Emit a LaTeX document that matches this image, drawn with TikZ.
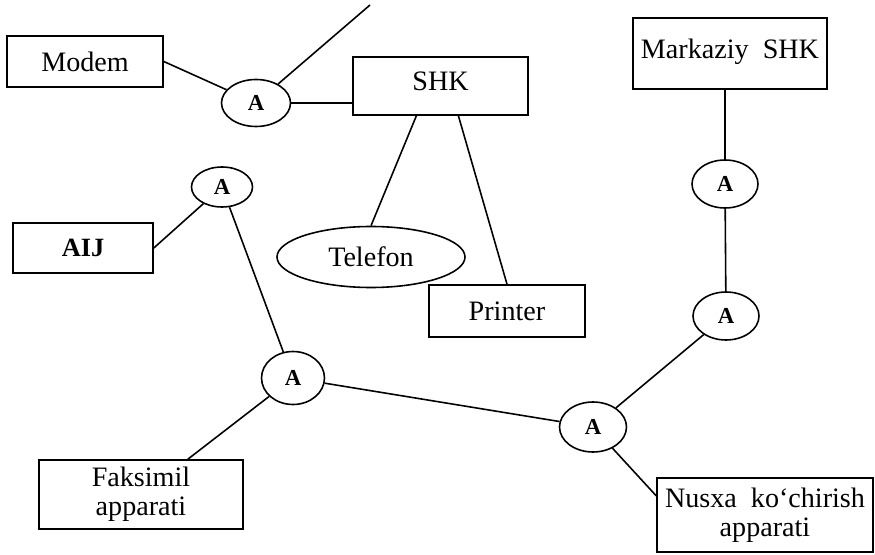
\documentclass[tikz,border=0pt]{standalone}
\usepackage{fontspec}
\setmainfont{Liberation Serif}
\usetikzlibrary{shapes.geometric}

\begin{document}
\begin{tikzpicture}[
    blok/.style={draw, rectangle, inner sep=0pt, align=center, font=\fontsize{16}{16.5}\selectfont},
    uzel/.style={draw, ellipse, inner sep=0pt, minimum width=1.32cm, minimum height=0.96cm, font=\fontsize{13}{15}\selectfont\bfseries},
    line width=0.9pt]
      % Fix the picture size
      \useasboundingbox (0,0) rectangle (17.5,11.08);

      % Draw the devices
      \node[blok, minimum width=3.12cm, minimum height=1.02cm] (modem) at (1.70,9.85) {Modem};
      \node[blok, minimum width=3.50cm, minimum height=1.16cm, text depth=0.2cm] (shk) at (8.81,9.36) {SHK};
      \node[blok, minimum width=3.88cm, minimum height=1.42cm, text depth=0.2cm] (markaz) at (14.60,10.01) {Markaziy\hspace{0.5em}SHK};
      \node[blok, minimum width=2.80cm, minimum height=1.00cm, font=\fontsize{15}{16}\selectfont\bfseries] (aij) at (1.66,6.12) {AIJ};
      \node[draw, ellipse, inner sep=0pt, minimum width=3.76cm, minimum height=1.22cm, font=\fontsize{16}{16.5}\selectfont] (telefon) at (7.42,5.94) {Telefon};
      \node[blok, minimum width=3.12cm, minimum height=1.04cm] (printer) at (10.14,4.86) {Printer};
      \node[blok, minimum width=4.08cm, minimum height=1.38cm] (faks) at (2.82,1.19) {Faksimil\\apparati};
      \node[blok, minimum width=4.32cm, minimum height=1.48cm] (nusxa) at (15.30,0.78) {Nusxa\hspace{0.5em}ko‘chirish\\apparati};

      % Draw the adapters
      \node[uzel, minimum width=1.38cm, minimum height=0.94cm] (a1) at (5.12,9.02) {A};
      \node[uzel, minimum width=1.22cm, minimum height=0.80cm] (a2) at (4.44,7.34) {A};
      \node[uzel, minimum width=1.26cm, minimum height=1.06cm] (a3) at (5.86,3.52) {A};
      \node[uzel] (a4) at (14.52,4.76) {A};
      \node[uzel, minimum width=1.34cm, minimum height=1.00cm] (a5) at (11.86,2.54) {A};
      \node[uzel] (a6) at (14.50,7.40) {A};
      \coordinate (tashqi) at (7.40,10.98);

      % Draw the links
      \draw (modem.east) -- (a1);
      \draw (a1) -- (tashqi);
      \draw (a1.east) -- (a1.east -| shk.west);
      \draw (shk.231) -- (telefon.north);
      \draw (shk.301) -- (printer.north);
      \draw (markaz.south -| a6) -- (a6);
      \draw (a6) -- (a4);
      \draw (a4) -- (a5);
      \draw (a5) -- (nusxa.170);
      \draw (aij.east) -- (a2);
      \draw (a2) -- (a3);
      \draw (a3) -- (faks.37);
      \draw (a3) -- (a5);
  \end{tikzpicture}
\end{document}
